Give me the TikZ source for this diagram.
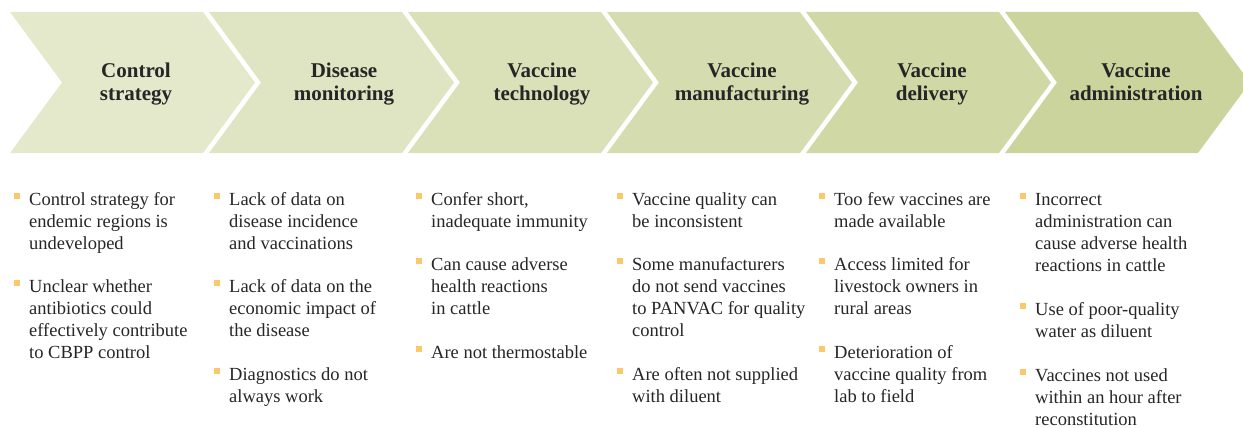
\documentclass[tikz,border=0pt]{standalone}
\usepackage{fontspec}
\setmainfont{Liberation Serif}
\definecolor{ca}{HTML}{E4E9CC}
\definecolor{cb}{HTML}{CBD49C}
\definecolor{bul}{HTML}{FBC96C}
\definecolor{txt}{HTML}{262626}
% #1 name, #2 x, #3 first baseline, #4 number of lines, #5 text
\newcommand\bitem[5]{%
  \node[itm] (#1) at (#2,#3+22*#4-22) {#5};
  \fill[bulletsq] (#2-15,#3-12) rectangle ++(6,6);}
\begin{document}
\begin{tikzpicture}[x=1pt,y=-1pt,
  title/.style={font=\fontsize{21}{23}\selectfont\bfseries, align=center, anchor=base, inner sep=0pt, text=txt},
  itm/.style={font=\fontsize{18.5}{22}\selectfont, align=left, anchor=base west, inner sep=0pt, text=txt},
  bulletsq/.style={fill=bul}]
\useasboundingbox (0,0) rectangle (1243,428);
\foreach \i/\x in {0/10,1/209,2/408,3/607,4/806,5/1005}{
  \pgfmathtruncatemacro\q{\i*20}
  \fill[cb!\q!ca] (\x,12) -- (\x+193,12) -- (\x+245,82.5) -- (\x+193,153) -- (\x,153) -- (\x+52,82.5) -- cycle;
}
\node[title] (t1) at (136,100) {Control\\strategy};
\node[title] (t2) at (344,100) {Disease\\monitoring};
\node[title] (t3) at (542,100) {Vaccine\\technology};
\node[title] (t4) at (742,100) {Vaccine\\manufacturing};
\node[title] (t5) at (932,100) {Vaccine\\delivery};
\node[title] (t6) at (1136,100) {Vaccine\\administration};

\bitem{a1}{29}{205}{3}{Control strategy for\\endemic regions is\\undeveloped}
\bitem{a2}{29}{292}{4}{Unclear whether\\antibiotics could\\effectively contribute\\to CBPP control}

\bitem{b1}{229}{205}{3}{Lack of data on\\disease incidence\\and vaccinations}
\bitem{b2}{229}{292}{3}{Lack of data on the\\economic impact of\\the disease}
\bitem{b3}{229}{380}{2}{Diagnostics do not\\always work}

\bitem{c1}{431}{205}{2}{Confer short,\\inadequate immunity}
\bitem{c2}{431}{270}{3}{Can cause adverse\\health reactions\\in cattle}
\bitem{c3}{431}{358}{1}{Are not thermostable}

\bitem{d1}{632}{205}{2}{Vaccine quality can\\be inconsistent}
\bitem{d2}{632}{270}{4}{Some manufacturers\\do not send vaccines\\to PANVAC for quality\\control}
\bitem{d3}{632}{380}{2}{Are often not supplied\\with diluent}

\bitem{e1}{834}{205}{2}{Too few vaccines are\\made available}
\bitem{e2}{834}{270}{3}{Access limited for\\livestock owners in\\rural areas}
\bitem{e3}{834}{358}{3}{Deterioration of\\vaccine quality from\\lab to field}

\bitem{f1}{1035}{205}{4}{Incorrect\\administration can\\cause adverse health\\reactions in cattle}
\bitem{f2}{1035}{315}{2}{Use of poor-quality\\water as diluent}
\bitem{f3}{1035}{381}{3}{Vaccines not used\\within an hour after\\reconstitution}
\end{tikzpicture}
\end{document}
